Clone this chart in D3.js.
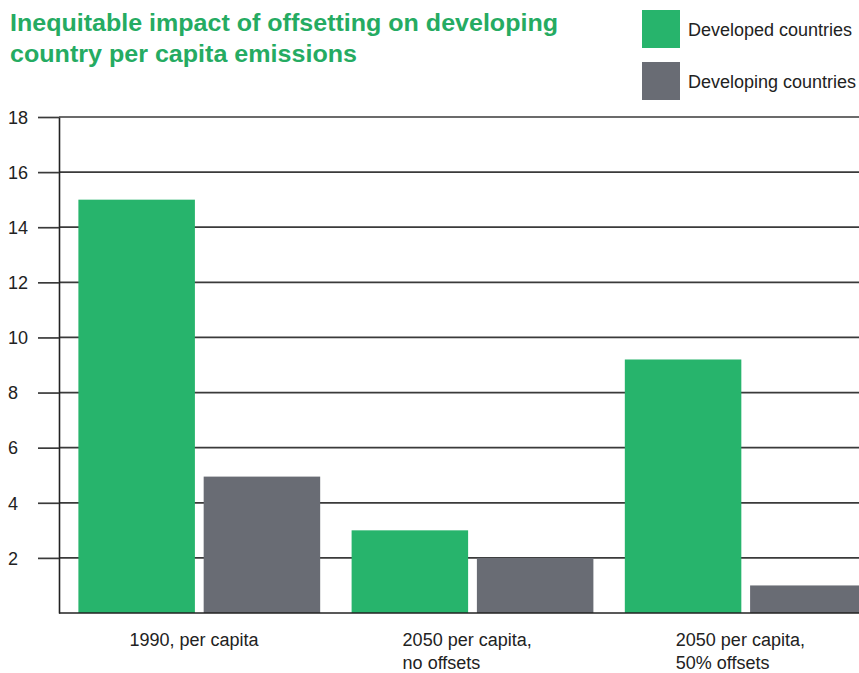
<!DOCTYPE html>
<html>
<head>
<meta charset="utf-8">
<script src="https://cdn.jsdelivr.net/npm/d3@7"></script>
<style>
  html, body { margin: 0; padding: 0; background: #fff; }
  svg { display: block; font-family: "Liberation Sans", Arial, sans-serif; }
</style>
</head>
<body>
<svg id="chart" width="859" height="673"></svg>
<script>
// Per capita emissions by scenario
const categories = ["1990, per capita", "2050 per capita,\nno offsets", "2050 per capita,\n50% offsets"];
const seriesNames = ["Developed countries", "Developing countries"];
const developed = [15, 3, 9.2];
const developing = [4.95, 2, 1];
const yTicks = [2, 4, 6, 8, 10, 12, 14, 16, 18];
const titleLines = ["Inequitable impact of offsetting on developing", "country per capita emissions"];

const colors = { "Developed countries": "#27b46c", "Developing countries": "#696c74" };

const svg = d3.select("#chart");
const axisX = 59, plotRight = 859;
const y = d3.scaleLinear().domain([0, 18]).range([613, 117]);

const x0 = d3.scaleBand().domain(categories).range([62, 883]).paddingInner(0.115).paddingOuter(0.06);
const x1 = d3.scaleBand().domain(seriesNames).range([0, x0.bandwidth()]).paddingInner(0.07);

const rows = categories.map((c, i) => ({ cat: c, values: [
  { key: seriesNames[0], value: developed[i] },
  { key: seriesNames[1], value: developing[i] }
]}));

// Title
svg.append("g").selectAll("text").data(titleLines).join("text")
  .attr("x", 10).attr("y", (d, i) => 31 + i * 31)
  .attr("fill", "#25ab62").attr("font-weight", "bold").attr("font-size", 24)
  .attr("textLength", (d, i) => i === 0 ? 548 : 347).attr("lengthAdjust", "spacingAndGlyphs")
  .text(d => d);

// Legend
const legend = svg.append("g").selectAll("g").data(seriesNames).join("g")
  .attr("transform", (d, i) => `translate(642, ${10 + i * 52})`);
legend.append("rect").attr("width", 38).attr("height", 38).attr("fill", d => colors[d]);
legend.append("text").attr("x", 46).attr("y", 26).attr("font-size", 18).attr("fill", "#222")
  .text(d => d);

// Gridlines
svg.append("g").selectAll("line").data(yTicks).join("line")
  .attr("x1", axisX).attr("x2", plotRight)
  .attr("y1", d => y(d)).attr("y2", d => y(d))
  .attr("stroke", "#3a3a3a").attr("stroke-width", 1.7);

// Bars
const groups = svg.append("g").selectAll("g").data(rows).join("g")
  .attr("transform", d => `translate(${x0(d.cat)},0)`);
groups.selectAll("rect").data(d => d.values).join("rect")
  .attr("x", d => x1(d.key)).attr("width", x1.bandwidth())
  .attr("y", d => y(d.value)).attr("height", d => y(0) - y(d.value))
  .attr("fill", d => colors[d.key]);

// Baseline
svg.append("line").attr("x1", axisX).attr("x2", plotRight)
  .attr("y1", y(0)).attr("y2", y(0)).attr("stroke", "#222").attr("stroke-width", 1.4);

// Y axis
const yAxis = svg.append("g").attr("transform", `translate(${axisX},0)`)
  .call(d3.axisLeft(y).tickValues(yTicks).tickSize(21).tickSizeOuter(0).tickFormat(d3.format("d")));
yAxis.select(".domain").attr("stroke", "#222").attr("stroke-width", 1.6);
yAxis.selectAll(".tick line").attr("stroke", "#3a3a3a").attr("stroke-width", 1.7);
yAxis.selectAll(".tick text").attr("text-anchor", "start").attr("x", -51).attr("dy", "0.35em")
  .attr("font-size", 18).attr("fill", "#222").attr("font-family", "Liberation Sans, Arial, sans-serif");

// Category labels
const catLabels = svg.append("g").selectAll("text").data(categories).join("text")
  .attr("font-size", 18).attr("fill", "#222")
  .attr("transform", d => `translate(${x0(d) + 51}, 646)`);
catLabels.selectAll("tspan").data(d => d.split("\n")).join("tspan")
  .attr("x", 0).attr("y", (d, i) => i * 23).text(d => d);
</script>
</body>
</html>
